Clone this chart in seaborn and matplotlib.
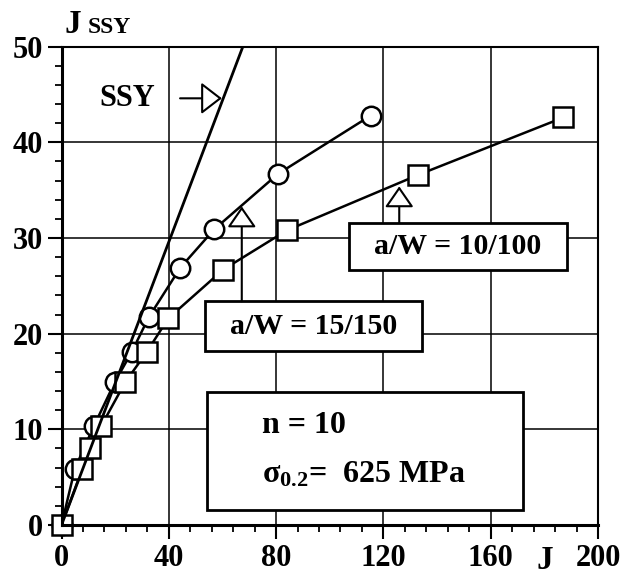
import matplotlib
matplotlib.use("Agg")
import matplotlib.pyplot as plt
import matplotlib.patches as patches
from matplotlib.ticker import MultipleLocator
import seaborn as sns
import pandas as pd

# values
j_circ = [0, 5.0, 12.0, 20.0, 26.2, 32.5, 44.3, 56.9, 80.7, 115.3]
jssy_circ = [0, 5.9, 10.3, 15.0, 18.1, 21.7, 26.9, 30.9, 36.7, 42.8]

j_sq = [0, 7.8, 10.6, 14.7, 23.7, 31.8, 39.8, 60.3, 84.0, 133.0, 187.1]
jssy_sq = [0, 5.9, 8.0, 10.3, 14.9, 18.1, 21.6, 26.7, 30.8, 36.6, 42.6]

# small scale yielding reference line
j_ssy_line = [0, 67.6]
jssy_ssy_line = [0, 50]

x_ticks = [0, 40, 80, 120, 160, 200]
y_ticks = [0, 10, 20, 30, 40, 50]

sns.set_style("white")
plt.rcParams["font.family"] = ["Liberation Serif", "DejaVu Serif"]
plt.rcParams["font.weight"] = "bold"
plt.rcParams["text.color"] = "black"
plt.rcParams["xtick.color"] = "black"
plt.rcParams["ytick.color"] = "black"
plt.rcParams["axes.labelcolor"] = "black"
plt.rcParams["mathtext.fontset"] = "custom"
plt.rcParams["mathtext.rm"] = "Liberation Serif:bold"
plt.rcParams["mathtext.it"] = "Liberation Serif"
plt.rcParams["mathtext.bf"] = "Liberation Serif:bold"

fig = plt.figure(figsize=(6.36, 5.76), dpi=100)
ax = fig.add_axes([0.0967, 0.0885, 0.8436, 0.8305])

circ_df = pd.DataFrame({"J": j_circ, "Jssy": jssy_circ})
sq_df = pd.DataFrame({"J": j_sq, "Jssy": jssy_sq})

line_kw = dict(color="black", linewidth=1.8, markersize=14,
               markerfacecolor="white", markeredgecolor="black",
               markeredgewidth=1.8, clip_on=False)

sns.lineplot(data=circ_df, x="J", y="Jssy", sort=False, estimator=None,
             marker="o", ax=ax, zorder=4, **line_kw)
sns.lineplot(data=sq_df, x="J", y="Jssy", sort=False, estimator=None,
             marker="s", ax=ax, zorder=5, **line_kw)
ax.plot(j_ssy_line, jssy_ssy_line, color="black", linewidth=2.0, zorder=6)

ax.set_xlim(0, 200)
ax.set_ylim(0, 50)
ax.set_xticks(x_ticks)
ax.set_yticks(y_ticks)
ax.xaxis.set_minor_locator(MultipleLocator(8))
ax.yaxis.set_minor_locator(MultipleLocator(2))
ax.tick_params(axis="both", which="major", direction="out", length=10,
               width=1.5, color="black", bottom=True, left=True)
ax.tick_params(axis="both", which="minor", direction="out", length=5,
               width=1.3, color="black", bottom=True, left=True)
ax.tick_params(axis="x", labelsize=22, pad=4)
ax.tick_params(axis="y", labelsize=22, pad=3)
for lab in ax.get_xticklabels() + ax.get_yticklabels():
    lab.set_fontweight("bold")

ax.grid(True, which="major", color="black", linewidth=1.1)
ax.set_axisbelow(True)
ax.set_xlabel("")
ax.set_ylabel("")
for side in ["left", "bottom"]:
    ax.spines[side].set_linewidth(2.2)
for side in ["top", "right"]:
    ax.spines[side].set_linewidth(1.5)
for sp in ax.spines.values():
    sp.set_color("black")
    sp.set_zorder(7)

# axis titles
fig.text(65 / 636, 1 - 33 / 576, "J", fontsize=24, fontweight="bold")
fig.text(88 / 636, 1 - 33 / 576, "SSY", fontsize=17, fontweight="bold")
fig.text(545 / 636, 1 - 569 / 576, "J", fontsize=24, fontweight="bold",
         ha="center")

# SSY label with arrow
ax.text(35, 44.6, "SSY", fontsize=22, fontweight="bold", ha="right",
        va="center")
ax.annotate("", xy=(59.8, 44.6), xytext=(44.2, 44.6),
            arrowprops=dict(arrowstyle="-|>,head_length=0.65,head_width=0.5",
                            mutation_scale=20, fc="white", ec="black",
                            lw=1.5, shrinkA=0, shrinkB=0))

# a/W boxes with arrows
box_kw = dict(fc="white", ec="black", lw=2.0, zorder=8)
ax.add_patch(patches.Rectangle((53.5, 18.2), 81.0, 5.2, **box_kw))
ax.text(94.0, 20.8, "a/W = 15/150", fontsize=21.5, fontweight="bold",
        ha="center", va="center", zorder=9)
ax.annotate("", xy=(67.2, 33.3), xytext=(67.2, 23.4),
            arrowprops=dict(arrowstyle="-|>,head_length=0.65,head_width=0.45",
                            mutation_scale=20, fc="white", ec="black",
                            lw=1.5, shrinkA=0, shrinkB=0), zorder=8)

ax.add_patch(patches.Rectangle((107.3, 26.7), 81.0, 4.9, **box_kw))
ax.text(147.8, 29.1, "a/W = 10/100", fontsize=21.5, fontweight="bold",
        ha="center", va="center", zorder=9)
ax.annotate("", xy=(125.9, 35.4), xytext=(125.9, 31.6),
            arrowprops=dict(arrowstyle="-|>,head_length=0.65,head_width=0.45",
                            mutation_scale=20, fc="white", ec="black",
                            lw=1.5, shrinkA=0, shrinkB=0), zorder=8)

# material box
ax.add_patch(patches.Rectangle((54.1, 1.57), 118.1, 12.33, **box_kw))
ax.text(74.6, 9.6, "n = 10", fontsize=23, fontweight="bold",
        ha="left", va="baseline", zorder=9)
ax.text(74.6, 4.4, r"$\sigma_{\mathbf{0.2}}$=  625 MPa", fontsize=23,
        fontweight="bold", ha="left", va="baseline", zorder=9)

fig.savefig("out.png", dpi=100)
